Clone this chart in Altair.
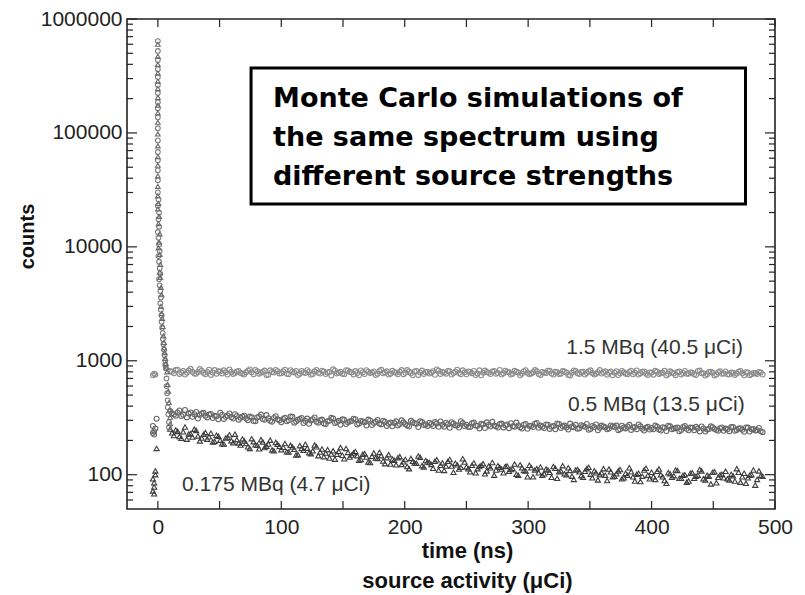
import altair as alt
import numpy as np
import pandas as pd

# ---------------- data ----------------
# time bins (ns) of the slowly decaying tails (two interleaved sets of bins)
t_tail = list(range(10, 491, 3))
t_tail_b = [float(v) for v in np.arange(11.5, 490, 3)]

counts_15 = [
    812, 776, 835, 790, 758, 821, 803, 769, 846, 781,
    798, 752, 829, 810, 774, 792, 840, 765, 806, 783,
    757, 818, 795, 830, 771, 802, 749, 824, 788, 811,
    779, 836, 762, 801, 815, 770, 793, 827, 754, 808,
    785, 819, 766, 797, 842, 775, 803, 760, 822, 789,
    812, 748, 794, 826, 781, 805, 769, 833, 790, 758,
    817, 786, 800, 763, 829, 778, 807, 752, 820, 795,
    772, 809, 838, 767, 791, 815, 756, 802, 780, 824,
    762, 798, 813, 775, 745, 820, 787, 806, 768, 831,
    779, 801, 757, 816, 790, 770, 827, 761, 794, 808,
    751, 785, 819, 773, 800, 764, 812, 789, 744, 823,
    777, 796, 758, 810, 783, 768, 829, 792, 755, 804,
    786, 749, 815, 771, 798, 760, 822, 779, 806, 752,
    790, 817, 766, 784, 742, 808, 775, 796, 759, 813,
    770, 787, 750, 821, 778, 762, 801, 744, 793, 769,
    806, 757, 784, 772, 815, 748, 790, 763, 779, 797,
    758,
]
counts_15_b = [
    801, 829, 767, 812, 784, 850, 773, 796, 818, 760,
    835, 789, 771, 806, 825, 757, 799, 781, 814, 770,
    792, 840, 763, 808, 786, 821, 755, 797, 832, 775,
    809, 768, 826, 790, 751, 814, 782, 799, 764, 830,
    773, 805, 791, 744, 818, 784, 771, 826, 796, 759,
    781, 823, 766, 803, 789, 752, 815, 777, 808, 770,
    795, 761, 828, 784, 806, 747, 813, 790, 766, 801,
    788, 754, 819, 797, 771, 809, 783, 834, 760, 792,
    806, 778, 750, 824, 786, 799, 765, 812, 781, 757,
    818, 792, 770, 803, 746, 811, 787, 775, 829, 764,
    798, 782, 816, 758, 793, 771, 805, 749, 786, 812,
    767, 801, 780, 824, 756, 795, 773, 808, 785, 748,
    811, 776, 792, 763, 819, 784, 757, 800, 771, 789,
    755, 803, 778, 817, 766, 791, 748, 806, 782, 769,
    795, 760, 814, 776, 741, 799, 785, 757, 808, 773,
    762, 789, 751, 803, 776, 794, 745, 782, 767, 791,
]

counts_05 = [
    362, 338, 351, 327, 370, 344, 322, 356, 335, 349,
    318, 341, 329, 307, 336, 322, 345, 311, 328, 316,
    330, 301, 319, 295, 324, 309, 334, 298, 315, 306,
    289, 316, 301, 322, 293, 308, 284, 311, 299, 318,
    286, 305, 279, 298, 312, 290, 274, 303, 288, 296,
    307, 281, 293, 270, 299, 285, 302, 276, 291, 280,
    266, 294, 279, 288, 271, 297, 283, 262, 290, 276,
    286, 268, 281, 293, 264, 277, 289, 270, 259, 284,
    275, 262, 287, 269, 280, 257, 273, 291, 266, 278,
    260, 276, 283, 264, 271, 254, 279, 268, 262, 285,
    270, 257, 275, 263, 251, 278, 266, 259, 281, 261,
    253, 272, 264, 248, 268, 276, 258, 265, 250, 271,
    262, 246, 269, 255, 274, 260, 251, 266, 244, 263,
    257, 270, 249, 261, 242, 266, 254, 259, 247, 268,
    245, 258, 263, 240, 255, 249, 266, 252, 243, 260,
    254, 241, 262, 247, 256, 238, 259, 251, 244, 257,
    236,
]
counts_05_b = [
    347, 329, 366, 336, 318, 352, 340, 311, 345, 330,
    337, 314, 326, 350, 309, 331, 320, 340, 304, 325,
    312, 324, 296, 318, 337, 303, 313, 292, 326, 301,
    309, 294, 325, 286, 303, 315, 296, 280, 307, 292,
    300, 281, 294, 316, 285, 297, 306, 278, 293, 310,
    276, 296, 288, 305, 273, 291, 282, 298, 268, 287,
    284, 271, 300, 277, 265, 289, 280, 294, 273, 268,
    279, 290, 263, 275, 286, 258, 281, 272, 295, 267,
    262, 283, 271, 255, 277, 288, 265, 270, 259, 281,
    272, 256, 266, 287, 261, 275, 253, 269, 280, 258,
    264, 276, 252, 268, 282, 257, 270, 249, 265, 274,
    256, 267, 279, 252, 262, 245, 270, 261, 255, 266,
    270, 250, 259, 265, 247, 262, 276, 253, 258, 249,
    251, 263, 244, 258, 269, 250, 256, 241, 262, 253,
    259, 246, 254, 265, 239, 252, 261, 247, 256, 243,
    250, 262, 243, 255, 248, 260, 239, 252, 246, 241,
]

counts_0175 = [
    252, 221, 240, 209, 262, 228, 214, 245, 198, 226,
    205, 231, 196, 218, 187, 210, 224, 191, 203, 182,
    198, 176, 207, 183, 169, 194, 178, 201, 162, 185,
    166, 188, 158, 175, 149, 180, 164, 171, 153, 182,
    147, 168, 155, 140, 162, 151, 173, 138, 157, 149,
    160, 134, 151, 143, 128, 155, 139, 147, 125, 150,
    137, 122, 144, 130, 118, 139, 127, 146, 120, 133,
    128, 114, 135, 121, 109, 131, 119, 126, 112, 138,
    117, 106, 127, 113, 121, 102, 119, 128, 110, 116,
    104, 119, 111, 124, 99, 115, 108, 121, 96, 113,
    117, 102, 110, 95, 114, 106, 120, 100, 109, 91,
    111, 98, 107, 116, 94, 104, 100, 113, 89, 106,
    97, 108, 92, 103, 115, 96, 101, 87, 110, 99,
    105, 91, 112, 96, 84, 102, 98, 109, 93, 100,
    88, 104, 97, 111, 92, 99, 83, 106, 95, 101,
    107, 90, 98, 113, 86, 103, 94, 100, 81, 108,
    97,
]
counts_0175_b = [
    233, 247, 216, 238, 205, 229, 251, 219, 210, 234,
    215, 194, 222, 201, 186, 212, 199, 227, 190, 206,
    188, 170, 195, 181, 203, 173, 186, 165, 192, 177,
    174, 159, 181, 167, 150, 170, 185, 156, 162, 176,
    158, 144, 166, 152, 137, 160, 148, 170, 143, 155,
    147, 136, 153, 129, 145, 140, 157, 132, 141, 124,
    134, 141, 123, 136, 113, 131, 126, 142, 117, 129,
    123, 131, 110, 127, 119, 136, 105, 122, 116, 129,
    113, 121, 104, 118, 125, 108, 115, 99, 120, 112,
    118, 107, 113, 101, 122, 109, 96, 115, 110, 104,
    99, 112, 105, 118, 93, 108, 102, 115, 97, 110,
    106, 95, 113, 101, 108, 90, 104, 99, 112, 96,
    102, 111, 94, 99, 106, 88, 103, 97, 114, 92,
    96, 107, 100, 89, 104, 95, 110, 93, 99, 86,
    103, 93, 99, 108, 90, 97, 105, 85, 100, 94,
    92, 101, 88, 105, 96, 84, 99, 110, 91, 98,
]

# points recorded just before time zero
pre_t_15 = [-4, -3, -2]
pre_v_15 = [745, 770, 758]
pre_t_05 = [-4, -3, -3, -2, -4, -1]
pre_v_05 = [268, 240, 225, 255, 232, 310]
pre_t_0175 = [-4, -3, -2, -4, -3, -2, -3, -1]
pre_v_0175 = [72, 85, 100, 92, 78, 108, 68, 170]

# prompt peak around time zero (circle points)
spike_t = [0, 0, 0, 0, 0, 0, 0, 0, 0, 0, 0, 0, 0, 0, 0, 0, 0,
           0.5, 0, 1, 0.5, 1, 0, 0.5, 1, 1.5, 0.5, 1, 1.5, 2, 1, 1.5, 2,
           2.5, 2, 2.5, 3, 3, 3.5, 4, 4, 4.5, 5, 5.5, 6, 6, 6.5, 7, 7,
           7.5, 8, 8, 8.5, 9, 9]
spike_v = [640000, 524000, 436000, 363000, 309000, 263000, 224000, 186000,
           165000, 137000, 110000, 86000, 68000, 57500, 47000, 38400, 30100,
           26000, 23000, 20000, 17500, 15000, 13500, 12000, 10500, 9200, 8300,
           7400, 6500, 5800, 5200, 4600, 4100, 3600, 3200, 2800, 2500, 2200,
           1950, 1750, 1550, 1400, 1250, 1120, 1000, 920, 860, 700, 600, 520,
           450, 390, 340, 290, 260]
# prompt peak around time zero (triangle points)
spike2_t = [0, 0, 0, 0, 0, 0, 0, 0, 0, 0, 0, 0, 0, 0, 0, 0, 0,
            0.5, 0, 1, 0.5, 1.5, 1, 0.5, 1.5, 2, 1.5, 2, 2.5, 3, 2.5, 3,
            3.5, 4, 4.5, 5, 5, 5.5, 6, 6.5, 7, 7.5, 8, 8.5, 9, 9.5, 10, 10]
spike2_v = [600000, 470000, 400000, 335000, 285000, 245000, 205000, 175000,
            150000, 124000, 98000, 77000, 62000, 52000, 42000, 34000, 28000,
            24000, 21500, 18500, 16000, 13000, 11000, 9800, 8600, 7000, 6000,
            5400, 4400, 3800, 3000, 2600, 2350, 2000, 1650, 1450, 1300, 1180,
            1050, 950, 880, 800, 620, 540, 430, 370, 320, 280]

series_labels = ["1.5 MBq (40.5 \u03bcCi)", "0.5 MBq (13.5 \u03bcCi)", "0.175 MBq (4.7 \u03bcCi)"]
box_lines = ["Monte Carlo simulations of", "the same spectrum using", "different source strengths"]

x_label_values = [0, 100, 200, 300, 400, 500]
x_tick_values = [0, 50, 100, 150, 200, 250, 300, 350, 400, 450, 500]
y_major = [100, 1000, 10000, 100000, 1000000]
y_minor = [60, 70, 80, 90,
           200, 300, 400, 500, 600, 700, 800, 900,
           2000, 3000, 4000, 5000, 6000, 7000, 8000, 9000,
           20000, 30000, 40000, 50000, 60000, 70000, 80000, 90000,
           200000, 300000, 400000, 500000, 600000, 700000, 800000, 900000]

# ---------------- layout ----------------
W, H = 648, 490
xs = alt.Scale(domain=[-25, 500], nice=False, zero=False)
ys = alt.Scale(type="log", domain=[50, 1000000], nice=False)
LABEL_FONT = "Liberation Sans"

x_axis = alt.Axis(values=x_label_values, ticks=False, domain=False, grid=False,
                  labelFontSize=21, labelFont=LABEL_FONT, labelColor="#222",
                  labelPadding=7, labelFlush=False,
                  title=["time (ns)", "source activity (\u03bcCi)"],
                  titleFont=LABEL_FONT, titleFontSize=22, titleFontWeight="bold",
                  titleColor="#111", titleX=340, titleY=31, titleAlign="center",
                  titleBaseline="top", titleLineHeight=30)
y_axis = alt.Axis(values=y_major, format="d", ticks=False, domain=False, grid=False,
                  labelFontSize=21, labelFont=LABEL_FONT, labelColor="#222",
                  labelPadding=5, title="counts", titleFont=LABEL_FONT,
                  titleFontSize=20, titleFontWeight="bold", titleColor="#111",
                  titleX=-100, titleY=217, titleAngle=-90, titleAlign="center",
                  titleBaseline="middle")


def X():
    return alt.X("t:Q", scale=xs, axis=x_axis)


def Y():
    return alt.Y("v:Q", scale=ys, axis=y_axis)


df15 = pd.DataFrame({"t": pre_t_15 + t_tail + t_tail_b,
                     "v": pre_v_15 + counts_15 + counts_15_b})
df05 = pd.DataFrame({"t": pre_t_05 + t_tail + t_tail_b,
                     "v": pre_v_05 + counts_05 + counts_05_b})
df0175 = pd.DataFrame({"t": pre_t_0175 + t_tail + t_tail_b,
                       "v": pre_v_0175 + counts_0175 + counts_0175_b})
dfspike = pd.DataFrame({"t": spike_t, "v": spike_v})
dfspike2 = pd.DataFrame({"t": spike2_t, "v": spike2_v})

pts15 = alt.Chart(df15).mark_point(shape="circle", filled=False, color="#8c8c8c",
                                   size=24, strokeWidth=1.1, opacity=1).encode(x=X(), y=Y())
pts05 = alt.Chart(df05).mark_point(shape="circle", filled=False, color="#686868",
                                   size=24, strokeWidth=1.1, opacity=1).encode(x=X(), y=Y())
pts0175 = alt.Chart(df0175).mark_point(shape="triangle-up", filled=False, color="#3c3c3c",
                                       size=26, strokeWidth=1.1, opacity=1).encode(x=X(), y=Y())
spike = alt.Chart(dfspike).mark_point(shape="circle", filled=False, color="#7c7c7c",
                                      size=22, strokeWidth=1.1, opacity=1).encode(x=X(), y=Y())
spike2 = alt.Chart(dfspike2).mark_point(shape="triangle-up", filled=False, color="#6a6a6a",
                                        size=22, strokeWidth=1.1, opacity=1).encode(x=X(), y=Y())

# inward ticks on all four sides
xt = pd.DataFrame({"t": x_tick_values})
ymaj = pd.DataFrame({"v": y_major})
ymin = pd.DataFrame({"v": y_minor})
rule = dict(color="#222", strokeWidth=1.2)
tick_bottom = alt.Chart(xt).mark_rule(**rule).encode(x=X(), y=alt.value(H), y2=alt.value(H - 8))
tick_top = alt.Chart(xt).mark_rule(**rule).encode(x=X(), y=alt.value(0), y2=alt.value(8))
tick_lmaj = alt.Chart(ymaj).mark_rule(**rule).encode(y=Y(), x=alt.value(0), x2=alt.value(10))
tick_lmin = alt.Chart(ymin).mark_rule(**rule).encode(y=Y(), x=alt.value(0), x2=alt.value(6))
tick_rmaj = alt.Chart(ymaj).mark_rule(**rule).encode(y=Y(), x=alt.value(W), x2=alt.value(W - 10))
tick_rmin = alt.Chart(ymin).mark_rule(**rule).encode(y=Y(), x=alt.value(W), x2=alt.value(W - 6))

# series labels (positions in data units)
lab_right = alt.Chart(pd.DataFrame({"t": [474, 475.5], "v": [1295, 409],
                                    "txt": series_labels[:2]})).mark_text(
    align="right", baseline="middle", font=LABEL_FONT, fontSize=21, color="#333").encode(
    x=X(), y=Y(), text="txt:N")
lab_left = alt.Chart(pd.DataFrame({"t": [19.6], "v": [81], "txt": series_labels[2:]})).mark_text(
    align="left", baseline="middle", font=LABEL_FONT, fontSize=21, color="#333").encode(
    x=X(), y=Y(), text="txt:N")

# annotation box
box = alt.Chart(pd.DataFrame({"t": [75.5], "t2": [476.1], "v": [371600], "v2": [23780]})).mark_rect(
    fill="white", stroke="black", strokeWidth=3).encode(
    x=X(), x2="t2:Q", y=Y(), y2="v2:Q")
box_text = alt.Chart(pd.DataFrame({"t": [93.3, 93.3, 93.3], "v": [168900, 76800, 34900],
                                   "txt": box_lines})).mark_text(
    align="left", baseline="alphabetic", font="DejaVu Sans", fontSize=27,
    fontWeight="bold", color="black").encode(x=X(), y=Y(), text="txt:N")

chart = alt.layer(
    pts15, pts05, pts0175, spike, spike2,
    tick_bottom, tick_top, tick_lmaj, tick_lmin, tick_rmaj, tick_rmin,
    lab_right, lab_left, box, box_text,
).properties(
    width=W, height=H,
    autosize=alt.AutoSizeParams(type="none"),
    padding={"left": 127, "top": 19, "right": 30, "bottom": 86},
    background="white",
).configure_view(stroke="#222", strokeWidth=1.6)

chart.save("out.html", embed_options={"renderer": "svg", "actions": False})
